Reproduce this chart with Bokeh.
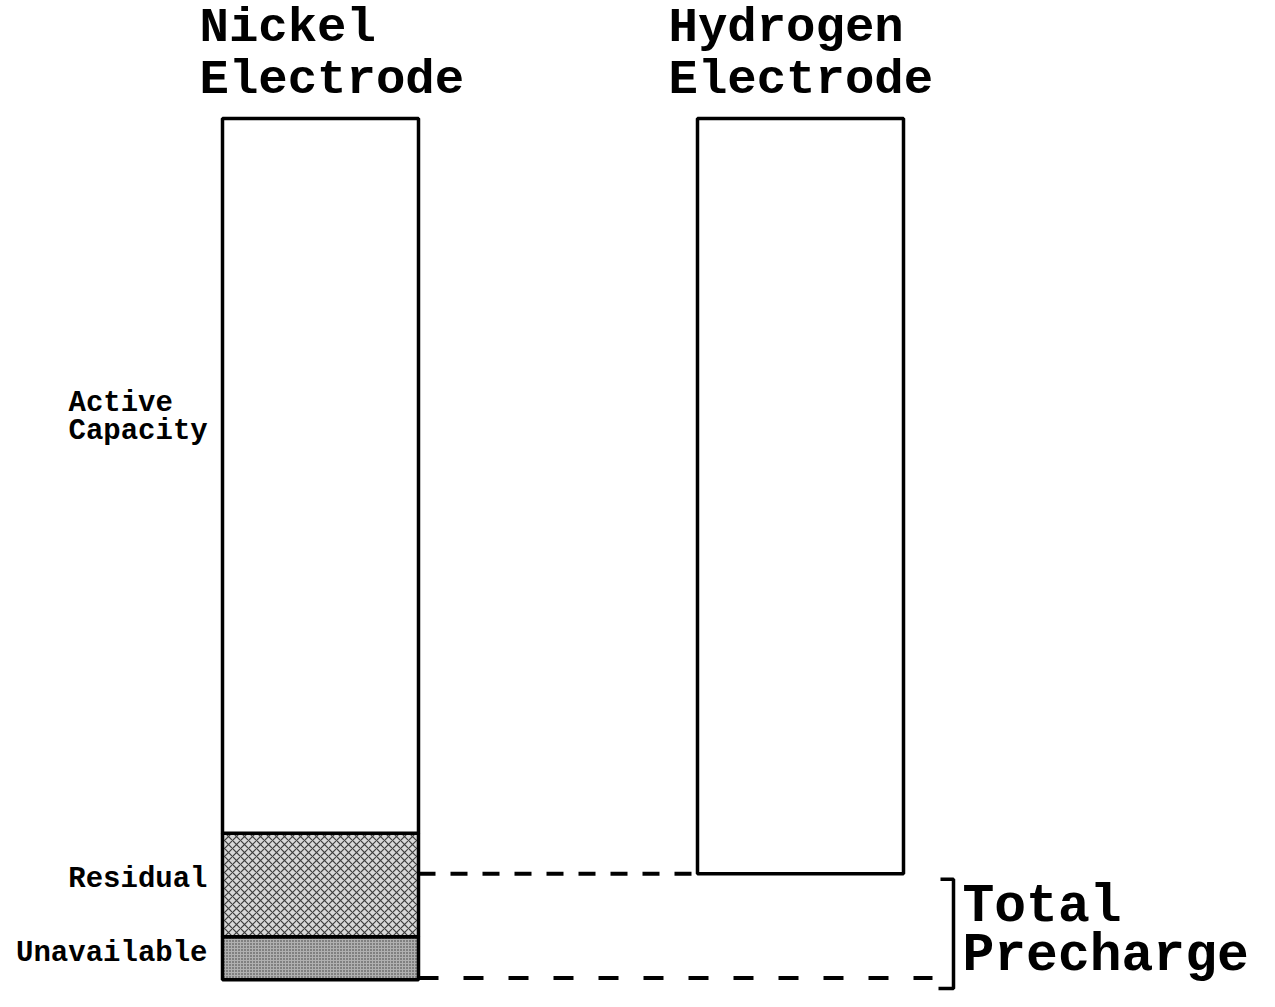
from bokeh.plotting import figure
from bokeh.models import Range1d, ColumnDataSource
from bokeh.core.properties import value
from bokeh.embed import file_html
from bokeh.resources import INLINE

# ---- data (capacity units, nickel total = 100) ----
nickel_segments = ["Unavailable", "Residual", "Active Capacity"]
nickel_bottom = [0, 5, 17]
nickel_top = [5, 17, 100]
hydrogen_bottom = [12.3]
hydrogen_top = [100]
residual_link = 12.3      # level joining nickel residual to hydrogen bottom
precharge_low = 0.0       # bottom of total precharge

bracket_label = ["Total", "Precharge"]

FONT = value("Liberation Mono")

# ---- layout (x in reference px; y in capacity units) ----
PX = 8.75          # reference px per unit
W, H = 1259, 991
REF_H = 1007
S = H / REF_H      # vertical compression so the whole fits

def yv(img_y):
    return (995 - img_y) / PX

p = figure(width=W, height=H, output_backend="svg", toolbar_location=None,
           x_range=Range1d(0, W), y_range=Range1d(yv(REF_H), yv(0)),
           x_axis_type=None, y_axis_type=None, min_border=0)
p.outline_line_color = None
p.xgrid.visible = False
p.ygrid.visible = False
p.background_fill_color = "white"
p.border_fill_color = "white"

NX0, NX1 = 222, 418
HX0, HX1 = 697, 903

fills = ["#b0b0b0", "#d8d8d8", "white"]
hatches = ["dot", "diagonal_cross", " "]
hscale = [3, 8, 12]
src = ColumnDataSource(dict(seg=nickel_segments, bottom=nickel_bottom, top=nickel_top,
                            fill=fills, hatch=hatches, hs=hscale))
p.quad(left=NX0, right=NX1, bottom="bottom", top="top", source=src,
       fill_color="fill", hatch_pattern="hatch", hatch_scale="hs",
       hatch_color="#222222", hatch_weight=1.2, hatch_alpha=0.85,
       line_color="black", line_width=3.5)

p.quad(left=[HX0], right=[HX1], bottom=hydrogen_bottom, top=hydrogen_top,
       fill_color="white", line_color="black", line_width=3.5)

# dashed connectors
p.line([NX1, HX0], [residual_link, residual_link], line_color="black",
       line_width=4, line_dash="17 15")
p.line([NX1, 932], [precharge_low + 0.2, precharge_low + 0.2], line_color="black",
       line_width=4, line_dash="20 25")

# bracket
bx = 953
p.line([940, bx, bx, 938], [yv(893), yv(893), yv(1004), yv(1004)],
       line_color="black", line_width=3.5)

TS_TOP = "49px"
TS = "53px"
SS = "29px"
TOFF_TOP = 14.7 / S
TOFF = 16 / S
SOFF = 8.5 / S

def tb(img_y, off):
    return yv(img_y - off)

# titles
p.text(x=[199, 199], y=[tb(43, TOFF_TOP), tb(96, TOFF_TOP)], text=["Nickel", "Electrode"],
       text_font=FONT, text_font_style="bold", text_font_size=TS_TOP,
       text_baseline="alphabetic", text_align="left", text_color="black")
p.text(x=[668, 668], y=[tb(43, TOFF_TOP), tb(96, TOFF_TOP)], text=["Hydrogen", "Electrode"],
       text_font=FONT, text_font_style="bold", text_font_size=TS_TOP,
       text_baseline="alphabetic", text_align="left", text_color="black")
p.text(x=[962, 962], y=[tb(937, TOFF), tb(987, TOFF)], text=bracket_label,
       text_font=FONT, text_font_style="bold", text_font_size=TS,
       text_baseline="alphabetic", text_align="left", text_color="black")

# segment labels
p.text(x=[68, 68], y=[tb(418, SOFF), tb(447, SOFF)], text=["Active", "Capacity"],
       text_font=FONT, text_font_style="bold", text_font_size=SS,
       text_baseline="alphabetic", text_align="left", text_color="black")
p.text(x=[207, 207], y=[tb(902, SOFF), tb(977, SOFF)], text=["Residual", "Unavailable"],
       text_font=FONT, text_font_style="bold", text_font_size=SS,
       text_baseline="alphabetic", text_align="right", text_color="black")

open("out.html", "w").write(file_html(p, INLINE))
